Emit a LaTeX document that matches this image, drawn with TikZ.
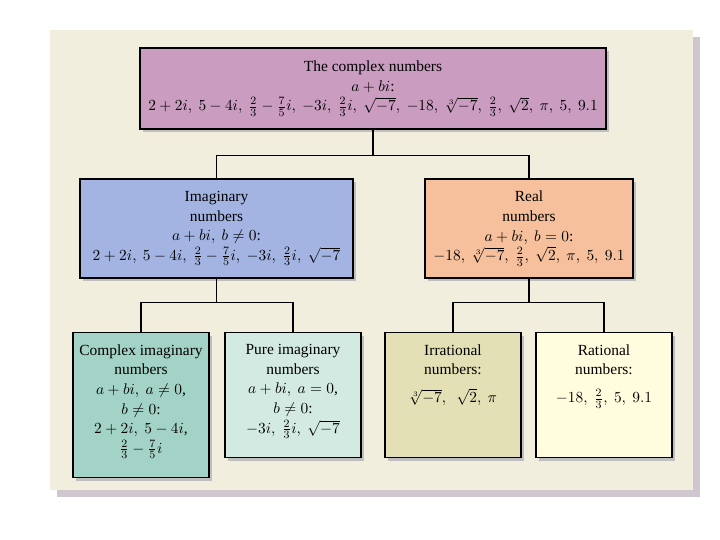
\documentclass[tikz,border=0pt]{standalone}
\usepackage{amsmath,amssymb}
\usepackage{fontspec}
\setmainfont{Liberation Serif}
\usepackage{tikz}
\usetikzlibrary{positioning,calc,shadows}

\definecolor{panelbg}{HTML}{F2EEDE}
\definecolor{panelsh}{HTML}{CFC6D0}
\definecolor{topfill}{HTML}{C99CC0}
\definecolor{imagfill}{HTML}{A3B4E2}
\definecolor{realfill}{HTML}{F5C09B}
\definecolor{cimagfill}{HTML}{A3D2C6}
\definecolor{pimagfill}{HTML}{D2EAE2}
\definecolor{irrfill}{HTML}{E2E0B4}
\definecolor{ratfill}{HTML}{FFFDDE}

\begin{document}
\begin{tikzpicture}[
        numbox/.style={rectangle, draw=black, line width=1pt, inner sep=0pt, drop shadow={shadow xshift=0.07cm, shadow yshift=-0.07cm, fill=black!25, opacity=1}},
        numtext/.style={align=center, inner sep=0pt, font=\fontsize{11}{14}\selectfont},
        conn/.style={line width=1pt}
    ]
    \useasboundingbox (0,0) rectangle (18,13.5);

    % Background panel
    \fill[panelsh] (1.425,1.075) rectangle (17.5,12.575);
    \fill[panelbg] (1.25,1.25) rectangle (17.325,12.75);

    % Top node
    \node[numbox, fill=topfill, minimum width=11.65cm, minimum height=2.025cm] (top) at (9.325, 11.2875) {};
    \node[numtext] (toptxt) at (top.center) {
        The complex numbers\\
        $a + bi$:\\
        $2 + 2i,\ 5 - 4i,\ \frac{2}{3} - \frac{7}{5}i,\ -3i,\ \frac{2}{3}i,\ \sqrt{-7},\ -18,\ \sqrt[3]{-7},\ \frac{2}{3},\ \sqrt{2},\ \pi,\ 5,\ 9.1$
    };

    % Second level
    \node[numbox, fill=imagfill, minimum width=6.825cm, minimum height=2.475cm] (imag) at (5.4125, 7.7875) {};
    \node[numtext] (imagtxt) at (imag.center) {
        Imaginary\\
        numbers\\
        $a + bi,\ b \neq 0$:\\
        $2 + 2i,\ 5 - 4i,\ \frac{2}{3} - \frac{7}{5}i,\ -3i,\ \frac{2}{3}i,\ \sqrt{-7}$
    };

    \node[numbox, fill=realfill, minimum width=5.2cm, minimum height=2.475cm] (real) at (13.225, 7.7875) {};
    \node[numtext] (realtxt) at (real.center) {
        Real\\
        numbers\\
        $a + bi,\ b = 0$:\\
        $-18,\ \sqrt[3]{-7},\ \frac{2}{3},\ \sqrt{2},\ \pi,\ 5,\ 9.1$
    };

    % Third level
    \node[numbox, fill=cimagfill, minimum width=3.4cm, minimum height=3.625cm, anchor=north] (cimag) at (3.525, 5.2) {};
    \node[numtext, below=0.3cm of cimag.north] (cimagtxt) {
        Complex imaginary\\
        numbers\\
        $a + bi,\ a \neq 0$,\\
        $b \neq 0$:\\
        $2 + 2i,\ 5 - 4i$,\\
        $\frac{2}{3} - \frac{7}{5}i$
    };

    \node[numbox, fill=pimagfill, minimum width=3.4cm, minimum height=3.125cm, anchor=north] (pimag) at (7.325, 5.2) {};
    \node[numtext, below=0.3cm of pimag.north] (pimagtxt) {
        Pure imaginary\\
        numbers\\
        $a + bi,\ a = 0$,\\
        $b \neq 0$:\\
        $-3i,\ \frac{2}{3}i,\ \sqrt{-7}$
    };

    \node[numbox, fill=irrfill, minimum width=3.4cm, minimum height=3.125cm, anchor=north] (irr) at (11.325, 5.2) {};
    \node[numtext, below=0.3cm of irr.north] (irrtxt) {
        Irrational\\
        numbers:\\[6pt]
        $\sqrt[3]{-7},\ \ \sqrt{2},\ \pi$
    };

    \node[numbox, fill=ratfill, minimum width=3.4cm, minimum height=3.125cm, anchor=north] (rat) at (15.1, 5.2) {};
    \node[numtext, below=0.3cm of rat.north] (rattxt) {
        Rational\\
        numbers:\\[6pt]
        $-18,\ \frac{2}{3},\ 5,\ 9.1$
    };

    % Connectors
    \draw[conn] (top.south) -- ++(0,-0.65) -| (imag.north);
    \draw[conn] (top.south) -- ++(0,-0.65) -| (real.north);

    \draw[conn] (imag.south) -- ++(0,-0.6) -| (cimag.north);
    \draw[conn] (imag.south) -- ++(0,-0.6) -| (pimag.north);

    \draw[conn] (real.south) -- ++(0,-0.6) -| (irr.north);
    \draw[conn] (real.south) -- ++(0,-0.6) -| (rat.north);

\end{tikzpicture}
\end{document}
